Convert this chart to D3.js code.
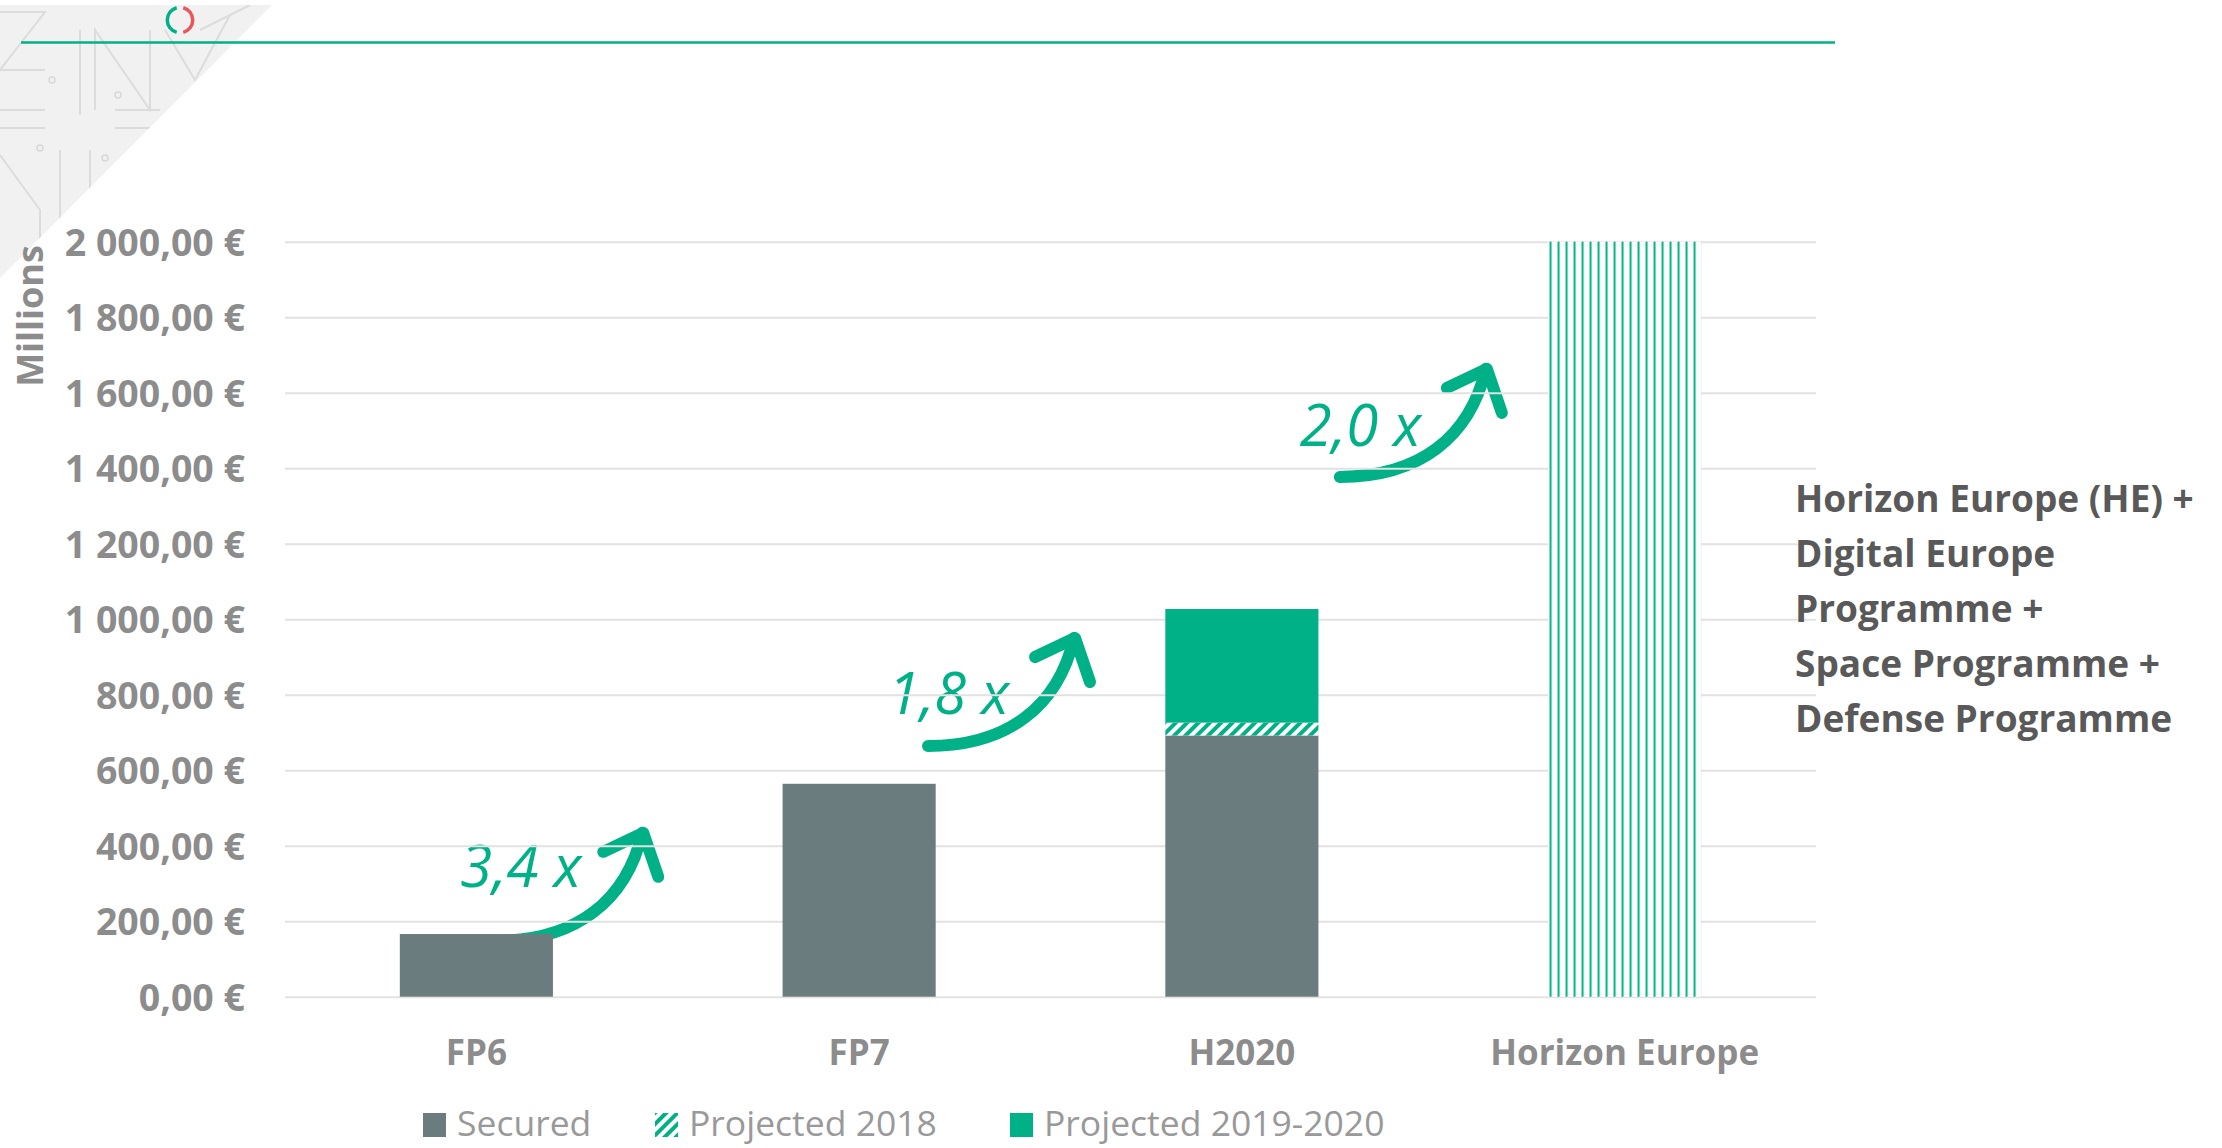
<!DOCTYPE html>
<html>
<head>
<meta charset="utf-8">
<script src="https://cdn.jsdelivr.net/npm/d3@7"></script>
<style>
  body { margin: 0; background: #fff; }
  svg { display: block; font-family: "Open Sans", sans-serif; }
</style>
</head>
<body>
<div id="chart"></div>
<script>
// Chart data (millions of euros)
var categories = ["FP6", "FP7", "H2020", "Horizon Europe"];
var secured = [166, 564, 692, 0];
var projected2018 = [0, 0, 34, 0];
var projected2019 = [0, 0, 301, 0];
var horizonPlanned = [0, 0, 0, 2000];
var yTicks = [0, 200, 400, 600, 800, 1000, 1200, 1400, 1600, 1800, 2000];
var legendLabels = ["Secured", "Projected 2018", "Projected 2019-2020"];
var noteLines = ["Horizon Europe (HE) +", "Digital Europe", "Programme +", "Space Programme +", "Defense Programme"];

// growth arrows: start category, tail value, text label, text baseline value
var growthFrom = ["FP6", "FP7", "H2020"];
var growthTail = [148, 664, 1377];
var growthLabel = ["3,4 x", "1,8 x", "2,0 x"];
var growthTextValue = [290, 749, 1459];

var green = "#00b188";
var grey = "#6a7c7d";
var textGrey = "#8c8c8c";

// Set up chart
var svgWidth = 2222;
var svgHeight = 1148;

var margin = {
  top: 241.7,
  right: 406,
  bottom: 151.3,
  left: 285
};

var width = svgWidth - margin.left - margin.right;
var height = svgHeight - margin.top - margin.bottom;

var svg = d3.select("#chart")
  .append("svg")
  .attr("width", svgWidth)
  .attr("height", svgHeight);

var defs = svg.append("defs");

// slide decoration: grey corner triangle with faint drawing
defs.append("clipPath").attr("id", "corner")
  .append("polygon").attr("points", "0,5 272,5 0,278");

var corner = svg.append("g").attr("clip-path", "url(#corner)");
corner.append("rect").attr("width", 280).attr("height", 290).attr("fill", "#f1f1f1");
var doodles = [
  "M0,12 L45,12 L0,70 L45,70",
  "M80,30 L80,115",
  "M95,110 L95,30 L150,110 L150,30",
  "M165,30 L195,80 L230,15",
  "M0,110 L45,110 M0,128 L45,128",
  "M115,110 L160,110 M115,128 L160,128",
  "M0,155 L40,210 L40,260",
  "M60,150 L60,230 M90,150 L90,200",
  "M200,30 L250,5"
];
corner.selectAll("path.doodle")
  .data(doodles)
  .enter()
  .append("path")
  .attr("class", "doodle")
  .attr("d", d => d)
  .attr("fill", "none")
  .attr("stroke", "#dcdcdc")
  .attr("stroke-width", 2);
[[52, 80], [118, 95], [40, 148], [105, 158]].forEach(p => {
  corner.append("circle").attr("cx", p[0]).attr("cy", p[1]).attr("r", 3)
    .attr("fill", "none").attr("stroke", "#d8d8d8").attr("stroke-width", 1.5);
});

// logo
var ring = d3.arc().innerRadius(11).outerRadius(14.5);
svg.append("path").attr("transform", "translate(180,20)")
  .attr("d", ring({startAngle: 195 * Math.PI / 180, endAngle: 345 * Math.PI / 180}))
  .attr("fill", green);
svg.append("path").attr("transform", "translate(180,20)")
  .attr("d", ring({startAngle: 15 * Math.PI / 180, endAngle: 165 * Math.PI / 180}))
  .attr("fill", "#e8585a");

// header rule
svg.append("line")
  .attr("x1", 21).attr("x2", 1835)
  .attr("y1", 42.5).attr("y2", 42.5)
  .attr("stroke", green)
  .attr("stroke-width", 2.5);

var chartGroup = svg.append("g")
  .attr("transform", `translate(${margin.left}, ${margin.top})`);

// Scales
var xBandScale = d3.scaleBand()
  .domain(categories)
  .range([0, width])
  .paddingInner(0.6)
  .paddingOuter(0.3);

var yLinearScale = d3.scaleLinear()
  .domain([0, 2000])
  .range([height, 0]);

// Patterns
var hatch = defs.append("pattern")
  .attr("id", "hatch")
  .attr("patternUnits", "userSpaceOnUse")
  .attr("width", 8).attr("height", 8)
  .attr("patternTransform", "rotate(45)");
hatch.append("rect").attr("width", 8).attr("height", 8).attr("fill", "#fff");
hatch.append("rect").attr("width", 4).attr("height", 8).attr("fill", green);

var vlines = defs.append("pattern")
  .attr("id", "vlines")
  .attr("patternUnits", "userSpaceOnUse")
  .attr("x", xBandScale("Horizon Europe"))
  .attr("width", 8).attr("height", 10);
vlines.append("rect").attr("width", 8).attr("height", 10).attr("fill", "#fff");
vlines.append("rect").attr("x", 1.5).attr("width", 2).attr("height", 10).attr("fill", green);

// Growth annotations (sit under gridlines and bars)
var notes = chartGroup.append("g");
growthFrom.forEach(function(cat, i) {
  var tx = xBandScale(cat) + xBandScale.bandwidth() * [0.63, 0.95, 1.14][i];
  var ty = yLinearScale(growthTail[i]);
  var g = notes.append("g").attr("transform", `translate(${tx}, ${ty})`);
  g.append("path")
    .attr("d", "M0,0 C80,0 130,-40 146,-108")
    .attr("fill", "none")
    .attr("stroke", green)
    .attr("stroke-width", 12)
    .attr("stroke-linecap", "round");
  g.append("path")
    .attr("d", "M107,-89 L147,-108 L162,-64")
    .attr("fill", "none")
    .attr("stroke", green)
    .attr("stroke-width", 12)
    .attr("stroke-linecap", "round")
    .attr("stroke-linejoin", "round");
  notes.append("text")
    .attr("x", tx + [-36, -40, -40][i])
    .attr("y", yLinearScale(growthTextValue[i]))
    .attr("fill", green)
    .style("font-size", "58px")
    .style("font-style", "italic")
    .style("font-weight", 400)
    .text(growthLabel[i]);
});

// Y axis with gridlines
var euroLocale = d3.formatLocale({decimal: ",", thousands: " ", grouping: [3], currency: ["", " €"]});
var euroFormat = euroLocale.format(",.2f");

var leftAxis = d3.axisLeft(yLinearScale)
  .tickValues(yTicks)
  .tickSize(-width)
  .tickFormat(d => euroFormat(d) + " €");

var yAxis = chartGroup.append("g").call(leftAxis);
yAxis.select(".domain").remove();
yAxis.selectAll("line")
  .attr("stroke", "#e2e2e2")
  .attr("stroke-width", 2);
yAxis.selectAll("text")
  .attr("x", -40)
  .attr("dy", "0.36em")
  .attr("fill", textGrey)
  .style("font-size", "37.5px")
  .style("font-weight", 700)
  .style("font-family", "'Open Sans', sans-serif");

// Bars
var rows = categories.map((c, i) => ({
  cat: c,
  secured: secured[i],
  p2018: projected2018[i],
  p2019: projected2019[i],
  planned: horizonPlanned[i]
}));
var keys = ["secured", "p2018", "p2019", "planned"];
var fills = {secured: grey, p2018: "url(#hatch)", p2019: green, planned: "url(#vlines)"};
var stacked = d3.stack().keys(keys)(rows);

chartGroup.selectAll("g.layer")
  .data(stacked)
  .enter()
  .append("g")
  .attr("class", "layer")
  .attr("fill", d => fills[d.key])
  .selectAll("rect")
  .data(d => d.filter(s => s[1] > s[0]))
  .enter()
  .append("rect")
  .attr("x", d => xBandScale(d.data.cat))
  .attr("width", xBandScale.bandwidth())
  .attr("y", d => yLinearScale(d[1]))
  .attr("height", d => yLinearScale(d[0]) - yLinearScale(d[1]));

// X axis labels
var bottomAxis = d3.axisBottom(xBandScale).tickSize(0);
var xAxis = chartGroup.append("g")
  .attr("transform", `translate(0, ${height})`)
  .call(bottomAxis);
xAxis.select(".domain").remove();
xAxis.selectAll("text")
  .attr("y", 68)
  .attr("dy", 0)
  .attr("fill", textGrey)
  .style("font-size", "35px")
  .style("font-weight", 700)
  .style("font-family", "'Open Sans', sans-serif");

// Axis title
svg.append("text")
  .attr("transform", "translate(43, 316) rotate(-90)")
  .attr("text-anchor", "middle")
  .attr("fill", textGrey)
  .style("font-size", "36px")
  .style("font-weight", 700)
  .text("Millions");

// Side note
svg.append("text")
  .attr("fill", "#595959")
  .style("font-size", "37px")
  .style("font-weight", 700)
  .selectAll("tspan")
  .data(noteLines)
  .enter()
  .append("tspan")
  .attr("x", 1795)
  .attr("y", (d, i) => 512 + i * 55)
  .text(d => d);

// Legend
var legendX = [423, 655, 1010];
var legendFill = [grey, "url(#hatch)", green];
var legend = svg.append("g");
legendLabels.forEach(function(label, i) {
  legend.append("rect")
    .attr("x", legendX[i]).attr("y", 1113)
    .attr("width", 23).attr("height", 24)
    .attr("fill", legendFill[i]);
  legend.append("text")
    .attr("x", legendX[i] + 34)
    .attr("y", 1136)
    .attr("fill", "#999")
    .style("font-size", "35.5px")
    .text(label);
});
</script>
</body>
</html>
